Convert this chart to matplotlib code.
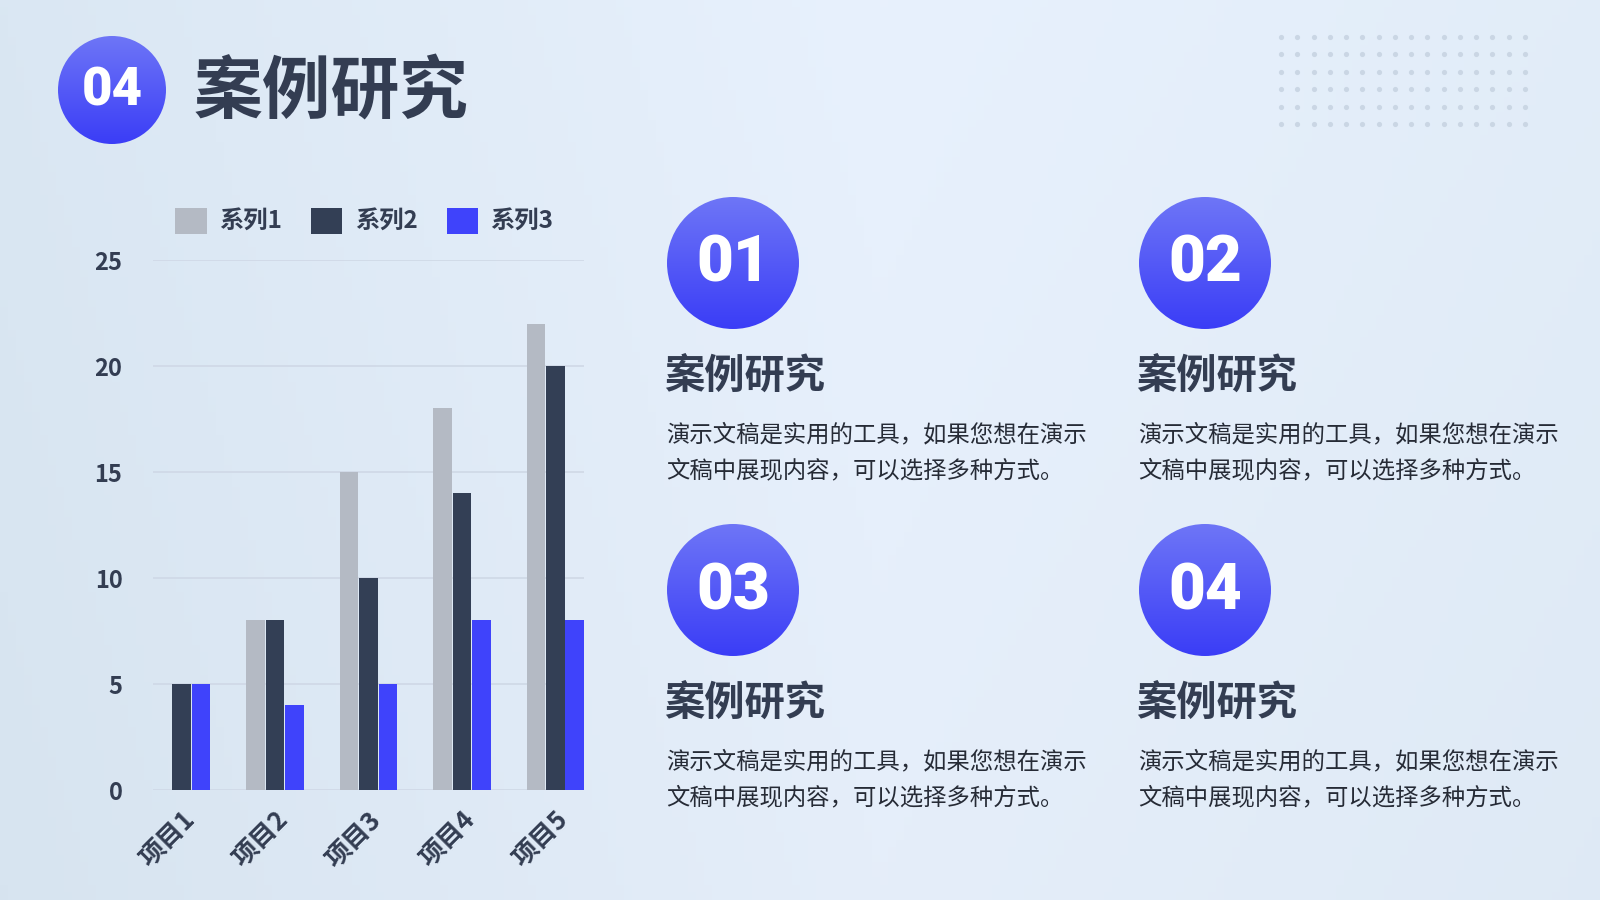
import matplotlib.pyplot as plt
import numpy as np
from matplotlib.patches import Circle

plt.rcParams["font.family"] = ["Noto Sans CJK SC", "DejaVu Sans"]

categories = ["项目1", "项目2", "项目3", "项目4", "项目5"]
series_names = ["系列1", "系列2", "系列3"]
series1 = [0, 8, 15, 18, 22]
series2 = [5, 8, 10, 14, 20]
series3 = [5, 4, 5, 8, 8]
y_ticks = [0, 5, 10, 15, 20, 25]

page_title = "案例研究"
page_number = "04"
card_numbers = ["01", "02", "03", "04"]
card_titles = ["案例研究", "案例研究", "案例研究", "案例研究"]
card_lines = [
    "演示文稿是实用的工具，如果您想在演示",
    "文稿中展现内容，可以选择多种方式。",
]

DARK = "#333d52"
TEXT = "#262b36"
BAR_COLORS = ["#b4bac4", "#333f55", "#3f43fb"]

W, H = 1600, 900
fig = plt.figure(figsize=(16, 9), dpi=100)

# background layer in pixel coordinates
bg = fig.add_axes([0, 0, 1, 1])
bg.set_xlim(0, W)
bg.set_ylim(H, 0)
bg.axis("off")

xx, yy = np.meshgrid(np.linspace(0, 1, 200), np.linspace(0, 1, 120))
c_left = np.array([0.855, 0.906, 0.953])
c_mid = np.array([0.910, 0.945, 0.992])
c_right = np.array([0.880, 0.925, 0.970])
t = np.clip(1 - np.abs(xx - 0.55) / 0.55, 0, 1)[..., None]
side = np.where(xx[..., None] < 0.55, c_left, c_right)
grad = side * (1 - t) + c_mid * t
grad = grad - 0.012 * yy[..., None]
bg.imshow(np.clip(grad, 0, 1), extent=[0, W, H, 0], aspect="auto", zorder=0)

# dot pattern top right
dx = np.linspace(1281, 1525, 16)
dy = np.linspace(37, 124, 6)
gx, gy = np.meshgrid(dx, dy)
bg.scatter(gx.ravel(), gy.ravel(), s=14, color="#cad6e4", linewidths=0, zorder=1)


def gradient_circle(cx, cy, r):
    ramp = np.linspace(0, 1, 100)[:, None, None]
    top = np.array([0.43, 0.46, 0.965])
    bottom = np.array([0.23, 0.24, 0.965])
    img = top * (1 - ramp) + bottom * ramp
    img = np.repeat(img, 2, axis=1)
    im = bg.imshow(img, extent=[cx - r, cx + r, cy + r, cy - r], aspect="auto", zorder=2)
    clip = Circle((cx, cy), r, transform=bg.transData)
    im.set_clip_path(clip)


# page heading
gradient_circle(112, 90, 54)
bg.text(112, 91, page_number, color="white", fontsize=38, fontweight="black",
        family=["Roboto", "DejaVu Sans"], ha="center", va="center", zorder=3)
bg.text(194, 92, page_title, color=DARK, fontsize=49.5, fontweight="heavy",
        ha="left", va="center", zorder=3)

# cards
card_x = [666, 1138, 666, 1138]
card_y = [263, 263, 590, 590]
for num, title, x0, y0 in zip(card_numbers, card_titles, card_x, card_y):
    cx = x0 + 67
    gradient_circle(cx, y0, 66)
    bg.text(cx, y0 + 1, num, color="white", fontsize=46, fontweight="black",
            family=["Roboto", "DejaVu Sans"], ha="center", va="center", zorder=3)
    bg.text(x0 - 2, y0 + 113, title, color=DARK, fontsize=29, fontweight="heavy",
            ha="left", va="center", zorder=3)
    for k, line in enumerate(card_lines):
        bg.text(x0, y0 + 172 + 36 * k, line, color=TEXT, fontsize=16.8,
                ha="left", va="center", zorder=3)

# bar chart
ax = fig.add_axes([153 / W, 110 / H, 431 / W, 530 / H])
ax.patch.set_alpha(0)
x = np.arange(len(categories))
width = 0.2
offset = 0.208
for i, (name, vals) in enumerate(zip(series_names, [series1, series2, series3])):
    ax.bar(x + (i - 1) * offset, vals, width, color=BAR_COLORS[i], label=name,
           linewidth=0, zorder=3)

ax.set_xlim(-0.306, 4.306)
ax.set_ylim(0, 25)
ax.set_yticks(y_ticks)
ax.set_yticklabels([str(v) for v in y_ticks], fontsize=17, fontweight="bold", color=DARK)
ax.set_xticks(x)
ax.set_xticklabels(categories, fontsize=18.5, fontweight="bold", color=DARK,
                   rotation=45, ha="right", va="top", rotation_mode="anchor")
ax.tick_params(axis="y", length=0, pad=22)
ax.tick_params(axis="x", length=0, pad=12)
ax.grid(axis="y", color="#cfd8e6", linewidth=1.2, zorder=0)
ax.set_axisbelow(True)
for s in ax.spines.values():
    s.set_visible(False)

leg = ax.legend(ncol=3, loc="center", bbox_to_anchor=(0.49, 1.074), frameon=False,
                prop={"size": 17.5, "weight": "bold"}, handlelength=1.3, handleheight=1.3,
                handletextpad=0.5, columnspacing=1.2, borderaxespad=0)
for txt in leg.get_texts():
    txt.set_color(DARK)

fig.savefig("out.png", dpi=100)
